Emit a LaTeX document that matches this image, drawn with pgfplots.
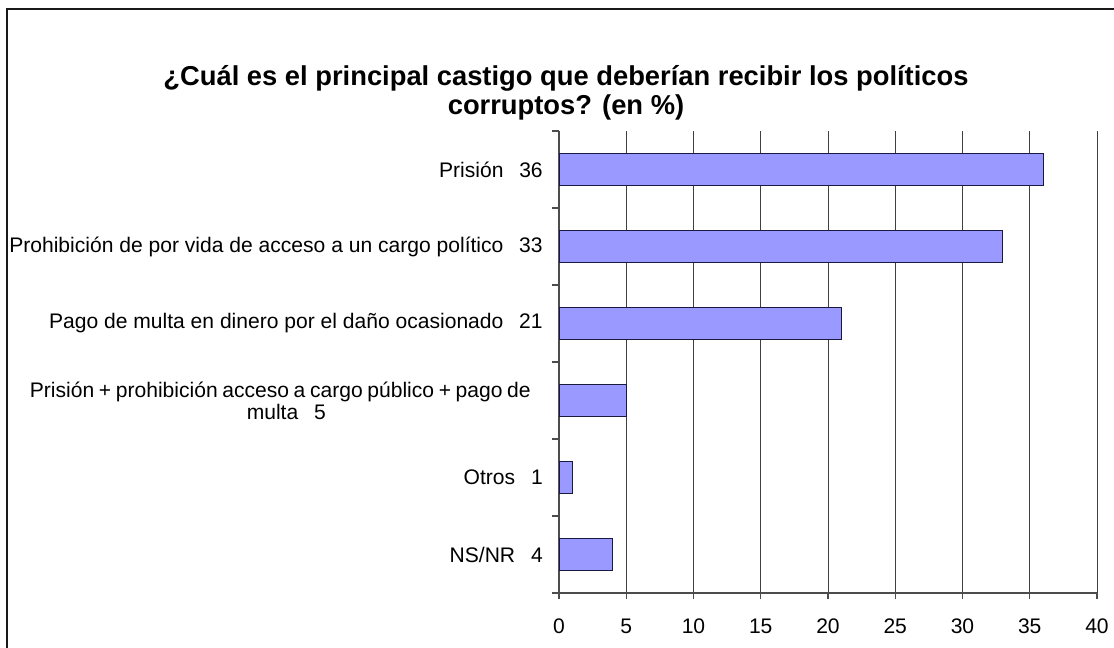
\documentclass[border=0pt]{standalone}
\usepackage{fontspec}
\setmainfont{Liberation Sans}
\usepackage{pgfplots}
\pgfplotsset{compat=1.18}
\definecolor{barfill}{HTML}{9999FF}
\definecolor{baredge}{HTML}{1A1A40}
\begin{document}
\begin{tikzpicture}
\useasboundingbox (0,0) rectangle (835.5pt,-486pt);
\draw[line width=1pt, black!90] (5.25pt,-486pt) -- (5.25pt,-6.75pt) -- (835.5pt,-6.75pt);
\node[align=center, font=\fontsize{20.5}{22}\selectfont\bfseries, inner sep=0pt] at (424.5pt,-69.5pt)
  {¿Cuál es el principal castigo que deberían recibir los políticos\\corruptos? (en \%)};
\begin{axis}[
  at={(419.25pt,-444.75pt)}, anchor=south west,
  width=403.5pt, height=346.5pt, scale only axis,
  xbar, bar width=23.5pt,
  xmin=0, xmax=40, ymin=-0.5, ymax=5.5,
  xtick={0,5,...,40},
  ytick={0,...,5},
  yticklabels={{NS/NR\hspace{0.75em}4},{Otros\hspace{0.75em}1},{{\spaceskip=0.22em plus 0.1em minus 0.1em Prisión + prohibición acceso a cargo público + pago de}\hspace*{9pt}\\multa\hspace{0.75em}5},{Pago de multa en dinero por el daño ocasionado\hspace{0.75em}21},{Prohibición de por vida de acceso a un cargo político\hspace{0.75em}33},{Prisión\hspace{0.75em}36}},
  minor ytick={-0.5,0.5,...,5.5},
  axis lines*=left,
  axis line style={black!70, line width=0.8pt},
  tick align=outside,
  major tick length=4.5pt,
  minor tick length=5pt,
  y tick style={draw=none},
  minor y tick style={draw=black!70, line width=0.8pt},
  x tick style={black!70, line width=0.8pt},
  xmajorgrids=true,
  major grid style={black!75, line width=0.7pt},
  tick label style={font=\fontsize{15.8}{16.5}\selectfont},
  /pgf/number format/assume math mode=true,
  yticklabel style={align=center, inner sep=0pt, xshift=-7.5pt},
  xticklabel style={inner sep=0pt, yshift=-14.75pt},
  clip=false,
]
\addplot[fill=barfill, draw=baredge, line width=0.7pt] coordinates {(4,0) (1,1) (5,2) (21,3) (33,4) (36,5)};
\end{axis}
\end{tikzpicture}
\end{document}
